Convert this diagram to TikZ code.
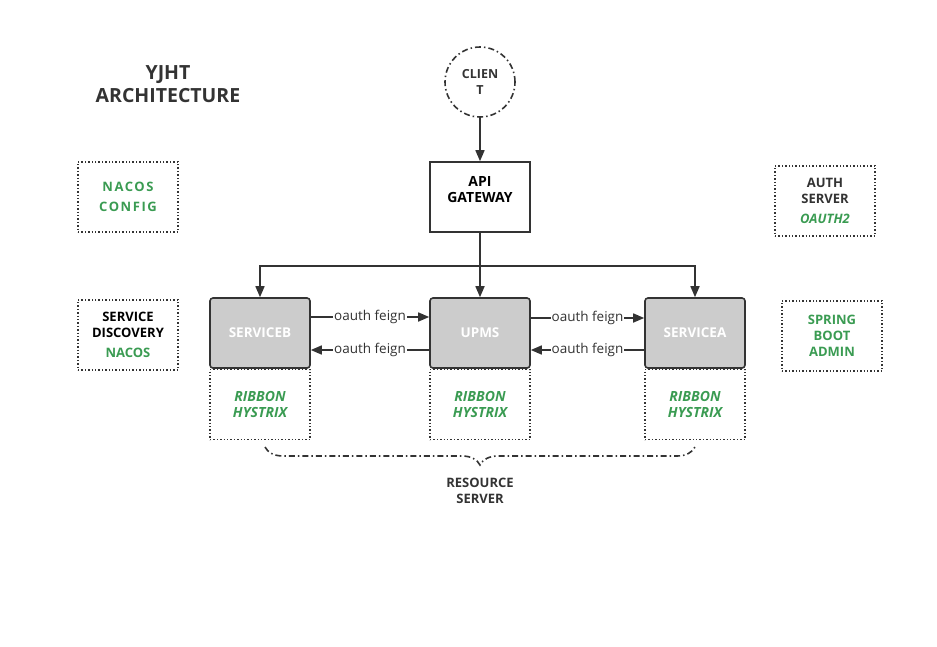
\documentclass[tikz,border=0pt]{standalone}
\usepackage{fontspec}
\setmainfont{Open Sans}
\usepackage{tikz}
\usetikzlibrary{arrows.meta,positioning,decorations.pathreplacing}
\definecolor{dgray}{HTML}{333333}
\definecolor{lgray}{HTML}{CCCCCC}
\definecolor{sgreen}{RGB}{58,155,82}

\begin{document}
\begin{tikzpicture}[x=1pt,y=-1pt,
line/.style={draw=dgray,line width=1.6pt},
arr/.style={line,-{Triangle[length=11pt,width=9pt]}},
box/.style={line,minimum width=100pt,minimum height=70pt,align=center,inner sep=2pt},
svc/.style={box,fill=lgray,rounded corners=3pt,text=white,font=\bfseries\fontsize{13.5}{16}\selectfont},
dotbox/.style={box,dash pattern=on 1.4pt off 2pt},
lbl/.style={font=\bfseries\fontsize{13}{16}\selectfont},
grn/.style={text=sgreen,font=\bfseries\fontsize{13}{16}\selectfont},
feign/.style={fill=white,inner sep=1pt,text=dgray,font=\fontsize{13.5}{16}\selectfont}]
\useasboundingbox (0,0) rectangle (937,646);

\node[text=dgray,align=center,font=\bfseries\fontsize{19.5}{23}\selectfont] (title) at (168,84) {YJHT\\ARCHITECTURE};
\node[circle,line,dash pattern=on 6pt off 3pt on 1.5pt off 3pt,minimum size=70pt,align=center,text=dgray,
   font=\bfseries\fontsize{12.5}{16}\selectfont] (client) at (480,82) {CLIEN\\T};
\node[box,lbl,font=\bfseries\fontsize{14}{16}\selectfont] (gateway) at (480,197) {API\\GATEWAY\\\phantom{A}};
\draw[arr] (client) -- (gateway);
\draw[line] (gateway.south) -- ++(0,33) coordinate (split);
\foreach \n/\x/\t in {serviceb/260/SERVICEB,upms/480/UPMS,servicea/695/SERVICEA} {
   \node[svc] (\n) at (\x,333) {\t};
   \node[dotbox,below=0pt of \n,text=sgreen,font=\bfseries\itshape\fontsize{14}{16}\selectfont] (\n-rh) {RIBBON\\HYSTRIX};
   \draw[arr] (split) -| (\n);
}
\draw[arr] ([yshift=16pt]serviceb.east) -- node[feign]{oauth feign} ([yshift=16pt]upms.west);
\draw[arr] ([yshift=-17pt]upms.west) -- node[feign]{oauth feign} ([yshift=-17pt]serviceb.east);
\draw[arr] ([yshift=15pt]upms.east) -- node[feign]{oauth feign} ([yshift=15pt]servicea.west);
\draw[arr] ([yshift=-17pt]servicea.west) -- node[feign]{oauth feign} ([yshift=-17pt]upms.east);

\node[dotbox,grn,font=\bfseries\fontsize{13}{20}\selectfont\addfontfeature{LetterSpace=12}] (nacos) at (128,197) {NACOS\\CONFIG};
\node[dotbox,lbl] (discovery) at (128,335) {SERVICE\\DISCOVERY\\[4pt]\textcolor{sgreen}{NACOS}};
\node[dotbox,lbl,text=dgray] (auth) at (825,201) {AUTH\\SERVER\\[4pt]\textcolor{sgreen}{\itshape OAUTH2}};
\node[dotbox,grn] (admin) at (832,336) {SPRING\\BOOT\\ADMIN};

\coordinate (bl) at (265,447);
\coordinate (br) at (695,447);
\draw[line,dash pattern=on 6pt off 3pt on 1.5pt off 3pt,decorate,decoration={brace,mirror,amplitude=18pt}] (bl) -- (br);
\node[lbl,text=dgray,align=center] (resource) at (480,491) {RESOURCE\\SERVER};
\end{tikzpicture}
\end{document}
